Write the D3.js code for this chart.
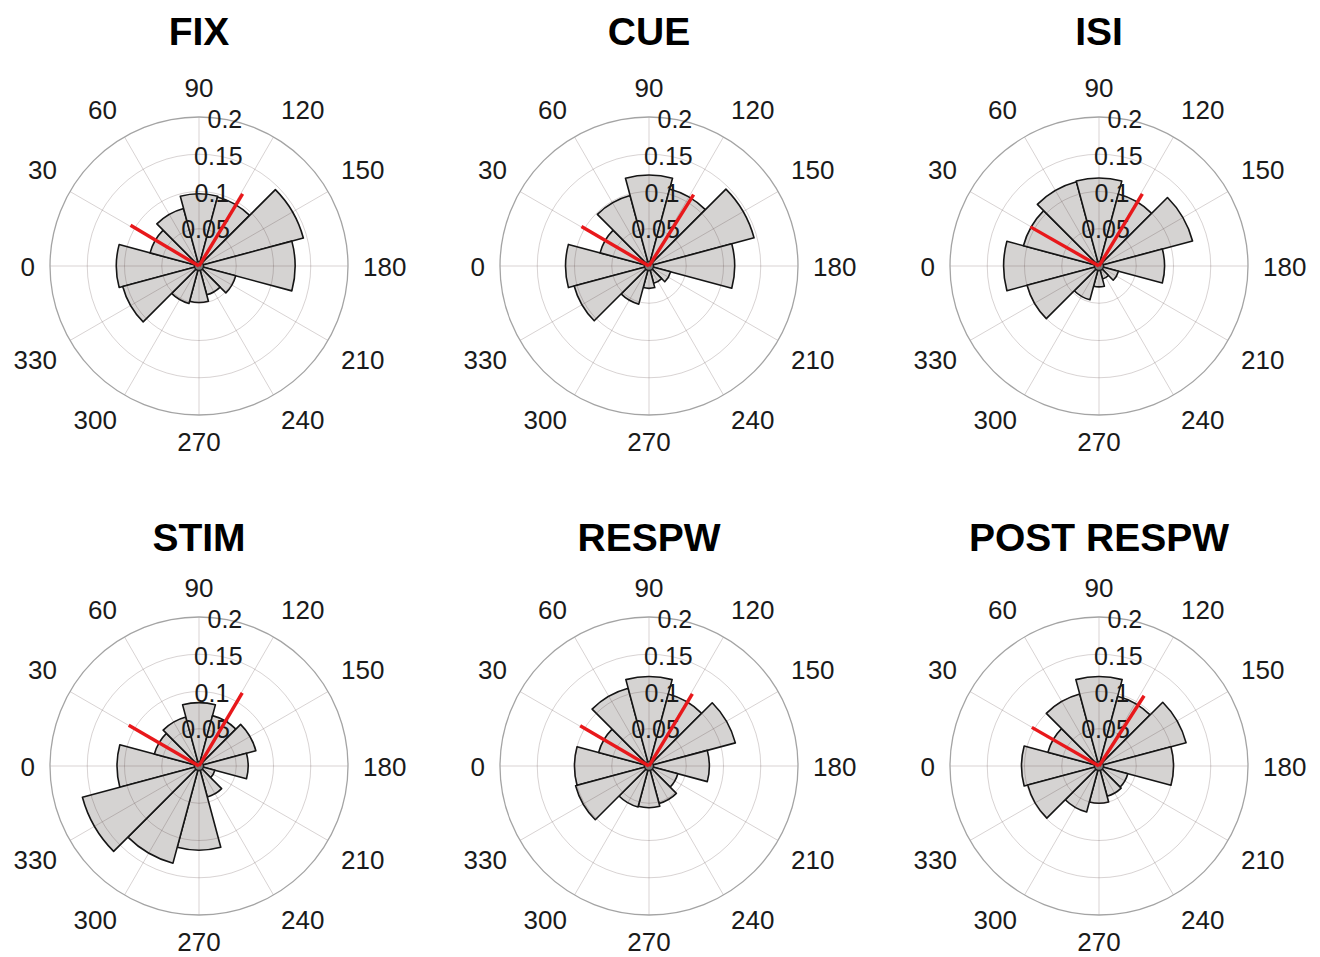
<!DOCTYPE html>
<meta charset="utf-8">
<style>
    body {
        margin: 0;
        padding: 0;
        background: #fff;
    }
    text {
        font-family: "Liberation Sans", Arial, Helvetica, sans-serif;
    }
    .title {
        font-weight: bold;
        font-size: 39px;
        fill: #000;
    }
    .ttick {
        font-size: 26px;
        fill: #1a1a1a;
    }
    .rtick {
        font-size: 25px;
        fill: #1a1a1a;
    }
    .bar {
        fill: #d5d3d2;
        stroke: #151515;
        stroke-width: 1.6;
        stroke-linejoin: round;
    }
    .grid {
        fill: none;
        stroke: #3a2424;
        stroke-opacity: 0.2;
        stroke-width: 1;
    }
    .mean {
        stroke: #e8181b;
        stroke-width: 3.4;
    }
</style>

<body>

<script src="https://d3js.org/d3.v7.min.js"></script>

<script>

// bin centres (deg), 0 at left, 90 at top, clockwise
var binAngles = [0, 30, 60, 90, 120, 150, 180, 210, 240, 270, 300, 330];
var thetaTicks = [0, 30, 60, 90, 120, 150, 180, 210, 240, 270, 300, 330];
var rTicks = [0.05, 0.1, 0.15, 0.2];

var titles = ["FIX", "CUE", "ISI", "STIM", "RESPW", "POST RESPW"];

// probability per bin, same order as binAngles
var fixVals   = [0.111, 0.068, 0.080, 0.097, 0.096, 0.145, 0.129, 0.051, 0.040, 0.049, 0.052, 0.106];
var cueVals   = [0.112, 0.068, 0.098, 0.122, 0.107, 0.146, 0.115, 0.030, 0.024, 0.030, 0.053, 0.104];
var isiVals   = [0.128, 0.105, 0.117, 0.118, 0.100, 0.130, 0.088, 0.027, 0.018, 0.028, 0.047, 0.100];
var stimVals  = [0.110, 0.062, 0.068, 0.085, 0.070, 0.079, 0.066, 0.022, 0.043, 0.113, 0.135, 0.162];
var respwVals = [0.100, 0.070, 0.108, 0.120, 0.100, 0.120, 0.081, 0.040, 0.052, 0.056, 0.057, 0.102];
var postVals  = [0.104, 0.071, 0.100, 0.120, 0.097, 0.121, 0.100, 0.040, 0.042, 0.050, 0.064, 0.099];

// red lines: [angle, length]
var fixMeans   = [[30.8, 0.107], [121.2, 0.113]];
var cueMeans   = [[30.3, 0.105], [122.0, 0.113]];
var isiMeans   = [[29.7, 0.106], [121.0, 0.113]];
var stimMeans  = [[30.1, 0.109], [120.6, 0.114]];
var respwMeans = [[30.3, 0.107], [121.0, 0.113]];
var postMeans  = [[29.9, 0.104], [122.7, 0.112]];

var panels = [
  {title: titles[0], values: fixVals,   means: fixMeans},
  {title: titles[1], values: cueVals,   means: cueMeans},
  {title: titles[2], values: isiVals,   means: isiMeans},
  {title: titles[3], values: stimVals,  means: stimMeans},
  {title: titles[4], values: respwVals, means: respwMeans},
  {title: titles[5], values: postVals,  means: postMeans}
];

var width = 1320,
  height = 957,
  R = 149,
  binWidth = 30,
  labelR = 164,
  rLabelAngle = 100;

var colX = [199, 649, 1099],
  rowY = [266, 766],
  titleY = [45, 551];

var r = d3.scaleLinear()
    .domain([0, 0.2])
    .range([0, R]);

var toRad = Math.PI / 180;
// d3.arc angles start at 12 o'clock and go clockwise
function arcAngle(t) { return (t - 90) * toRad; }
function xAt(t, rr) { return -Math.cos(t * toRad) * rr; }
function yAt(t, rr) { return -Math.sin(t * toRad) * rr; }

var arc = d3.arc()
    .innerRadius(0)
    .outerRadius(function(d) { return r(d.v); })
    .startAngle(function(d) { return arcAngle(d.a - binWidth / 2); })
    .endAngle(function(d) { return arcAngle(d.a + binWidth / 2); });

var svg = d3.select("body").append("svg")
    .attr("width", width)
    .attr("height", height);

panels.forEach(function(p, i) {
  var col = i % 3, row = Math.floor(i / 3);
  var cx = colX[col], cy = rowY[row];

  svg.append("text")
      .attr("class", "title")
      .attr("x", cx)
      .attr("y", titleY[row])
      .attr("text-anchor", "middle")
      .text(p.title);

  var g = svg.append("g")
      .attr("transform", "translate(" + cx + "," + cy + ")");

  var bins = binAngles.map(function(a, k) { return {a: a, v: p.values[k]}; });

  g.selectAll(".bar")
    .data(bins)
    .enter().append("path")
      .attr("class", "bar")
      .attr("d", arc);

  // grid on top of the bars
  g.selectAll(".spoke")
    .data(thetaTicks)
    .enter().append("line")
      .attr("class", "grid")
      .attr("x1", 0).attr("y1", 0)
      .attr("x2", function(t) { return xAt(t, R); })
      .attr("y2", function(t) { return yAt(t, R); });

  g.selectAll(".ring")
    .data(rTicks.slice(0, -1))
    .enter().append("circle")
      .attr("class", "grid")
      .attr("r", function(d) { return r(d); });

  g.append("circle")
      .attr("r", r(0.2))
      .attr("fill", "none")
      .attr("stroke", "#a4a4a4")
      .attr("stroke-width", 1.3);

  g.append("circle")
      .attr("r", 4.5)
      .attr("fill", "#7a7a7a")
      .attr("stroke", "#1a1a1a")
      .attr("stroke-width", 1.4);

  g.selectAll(".rtick")
    .data(rTicks)
    .enter().append("text")
      .attr("class", "rtick")
      .attr("text-anchor", "middle")
      .attr("x", function(d) { return xAt(rLabelAngle, r(d)); })
      .attr("y", function(d) { return yAt(rLabelAngle, r(d)) + 9; })
      .text(function(d) { return String(d); });

  g.selectAll(".mean")
    .data(p.means)
    .enter().append("line")
      .attr("class", "mean")
      .attr("x1", 0).attr("y1", 0)
      .attr("x2", function(d) { return xAt(d[0], r(d[1])); })
      .attr("y2", function(d) { return yAt(d[0], r(d[1])); });

  g.selectAll(".ttick")
    .data(thetaTicks)
    .enter().append("text")
      .attr("class", "ttick")
      .attr("x", function(t) { return xAt(t, labelR); })
      .attr("y", function(t) {
        var y = yAt(t, labelR);
        if (Math.abs(y) < 1) return y + 9.5;
        return y < 0 ? y - 5 : y + 21;
      })
      .attr("text-anchor", function(t) {
        var x = xAt(t, labelR);
        if (Math.abs(x) < 1) return "middle";
        return x > 0 ? "start" : "end";
      })
      .text(function(t) { return t; });
});

</script>
